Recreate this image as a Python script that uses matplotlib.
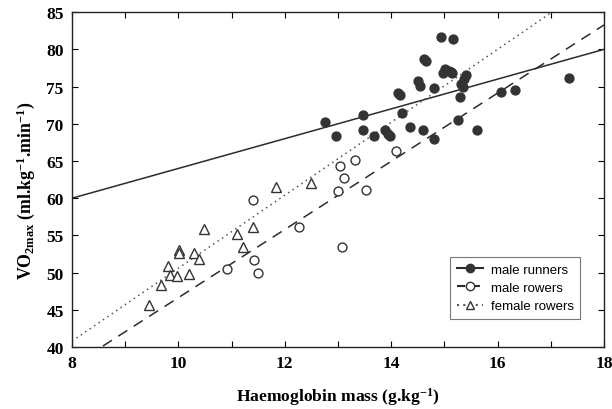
import matplotlib
matplotlib.use("Agg")
import matplotlib.pyplot as plt
import numpy as np

plt.rcParams["mathtext.fontset"] = "custom"
plt.rcParams["mathtext.rm"] = "Liberation Serif:bold"
plt.rcParams["mathtext.bf"] = "Liberation Serif:bold"
plt.rcParams["mathtext.it"] = "Liberation Serif:bold"
plt.rcParams["mathtext.default"] = "bf"

# Data
runners_x = [12.75, 12.96, 13.47, 13.47, 13.67, 13.89, 13.94, 13.98, 14.13, 14.16, 14.21, 14.35,
             14.50, 14.54, 14.60, 14.62, 14.65, 14.80, 14.80, 14.93, 14.98, 15.02, 15.09, 15.12,
             15.15, 15.17, 15.26, 15.29, 15.32, 15.34, 15.37, 15.40, 15.62, 16.06, 16.32, 17.35]
runners_y = [70.3, 68.3, 71.2, 69.2, 68.4, 69.1, 68.6, 68.3, 74.1, 73.9, 71.5, 69.6,
             75.8, 75.1, 69.2, 78.7, 78.4, 74.8, 68.0, 81.7, 76.8, 77.3, 77.1, 76.9,
             76.8, 81.4, 70.5, 73.6, 75.3, 75.0, 76.0, 76.6, 69.1, 74.3, 74.6, 76.2]

rowers_x = [10.91, 11.40, 11.43, 11.50, 12.26, 13.00, 13.03, 13.08, 13.11, 13.32, 13.52, 14.09]
rowers_y = [50.5, 59.8, 51.7, 49.9, 56.2, 61.0, 64.3, 53.5, 62.7, 65.2, 61.1, 66.3]

fem_x = [9.44, 9.67, 9.80, 9.85, 9.97, 10.02, 10.02, 10.20, 10.30, 10.38, 10.49, 11.11, 11.21,
         11.41, 11.83, 12.50]
fem_y = [45.6, 48.3, 50.9, 49.7, 49.6, 53.0, 52.6, 49.8, 52.6, 51.9, 55.9, 55.2, 53.4,
         56.1, 61.5, 62.0]

# Regression lines (intercept, slope)
runners_fit = (44.0, 2.0)
rowers_fit = (0.84, 4.58)
fem_fit = (1.6, 4.9)

labels = ["male runners", "male rowers", "female rowers"]

fig = plt.figure(figsize=(6.12, 4.10), dpi=100)
ax = fig.add_axes([0.1176, 0.151, 0.8694, 0.817])

xl = np.array([8, 18])
lc = "#2b2b2b"
ax.plot(xl, runners_fit[0] + runners_fit[1] * xl, color=lc, lw=1.1, ls="-")
ax.plot(xl, rowers_fit[0] + rowers_fit[1] * xl, color=lc, lw=1.1, ls=(0, (7, 5)))
ax.plot(xl, fem_fit[0] + fem_fit[1] * xl, color="#555555", lw=1.1, ls=(0, (1, 2.5)))

ax.plot(runners_x, runners_y, "o", ms=6.4, mfc="#333333", mec="#333333", ls="none")
ax.plot(rowers_x, rowers_y, "o", ms=6.4, mfc="white", mec="#333333", mew=1.0, ls="none")
ax.plot(fem_x, fem_y, "^", ms=7.0, mfc="white", mec="#333333", mew=1.0, ls="none")

# legend handles
h1, = ax.plot([], [], color=lc, ls="-", marker="o", ms=6, mfc="#333333", mec="#333333")
h2, = ax.plot([], [], color=lc, ls=(0, (4, 3)), marker="o", ms=6, mfc="white", mec="#333333")
h3, = ax.plot([], [], color="#555555", ls=(0, (1, 2)), marker="^", ms=6, mfc="white", mec="#333333")
leg = ax.legend([h1, h2, h3], labels, loc="lower right", bbox_to_anchor=(0.968, 0.065),
                prop={"family": "Liberation Sans", "size": 9.5}, frameon=True, fancybox=False,
                handlelength=2.0, borderpad=0.5, labelspacing=0.45, handletextpad=0.6)
leg.get_frame().set_edgecolor("#555555")
leg.get_frame().set_linewidth(0.8)

ax.set_xlim(8, 18)
ax.set_ylim(40, 85)
ax.set_xticks(np.arange(8, 19, 1))
ax.set_xticklabels([str(v) if v % 2 == 0 else "" for v in range(8, 19)])
ax.set_yticks(np.arange(40, 86, 5))
ax.tick_params(direction="in", top=True, right=True, length=4, width=0.8, pad=6)
for lab in ax.get_xticklabels() + ax.get_yticklabels():
    lab.set_fontfamily("Liberation Serif")
    lab.set_fontweight("bold")
    lab.set_fontsize(12.5)
for s in ax.spines.values():
    s.set_linewidth(1.0)
    s.set_color("#222222")

ax.set_xlabel("Haemoglobin mass (g.kg$^{-1}$)", fontfamily="Liberation Serif",
              fontweight="bold", fontsize=12.6, labelpad=10)
ax.set_ylabel("VO$_{2max}$ (ml.kg$^{-1}$.min$^{-1}$)",
              fontfamily="Liberation Serif", fontweight="bold", fontsize=12.8)
ax.yaxis.set_label_coords(-0.066, 0.47)

fig.savefig("out.png", dpi=100)
